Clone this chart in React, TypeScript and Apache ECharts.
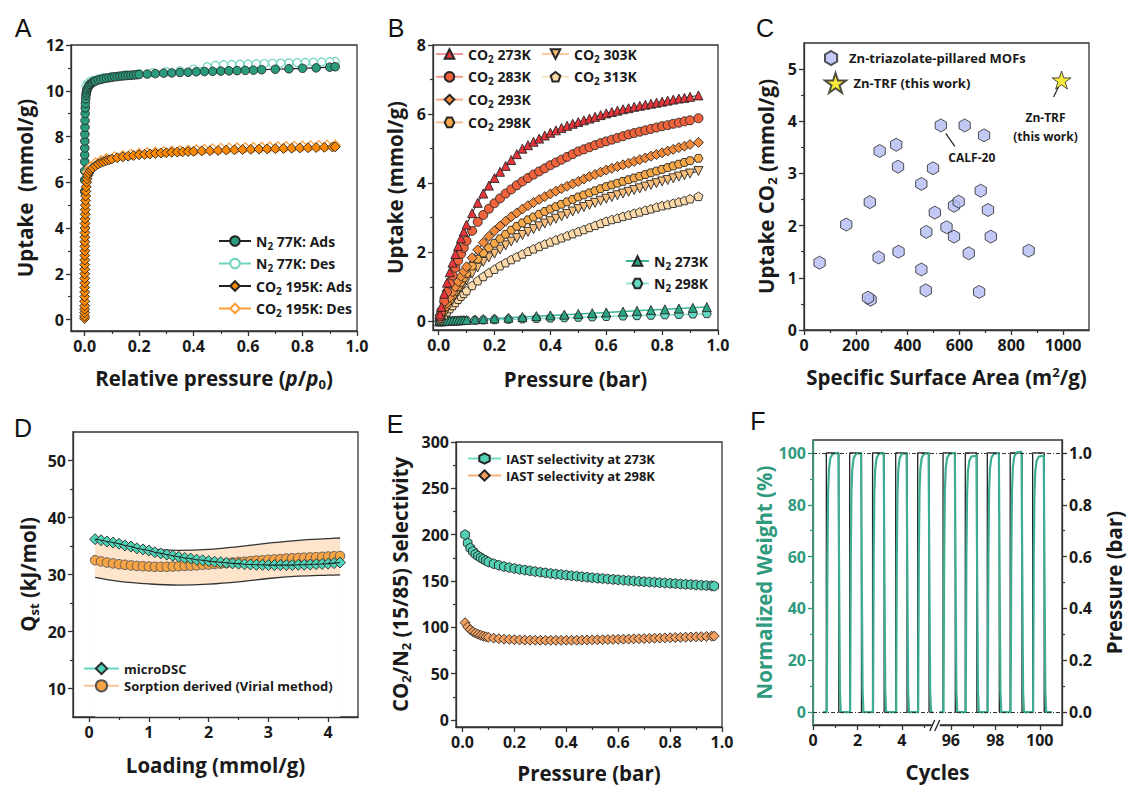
import React, { useEffect, useRef } from "react";
import * as echarts from "echarts";

const FONT = "'Open Sans', 'Noto Sans', 'DejaVu Sans', sans-serif";
const INK = "#1a1a1a";
const AX = "#333333";
const TEAL_F = "#2f9a7e";

// ---------------- Panel A : N2 77K / CO2 195K isotherms ----------------
const n2AdsA = [[0.0001,5.6],[0.0002,6.1],[0.0003,6.5],[0.0004,6.9],[0.0005,7.2],[0.0006,7.5],[0.0008,7.8],[0.001,8.1],[0.0012,8.4],[0.0015,8.7],[0.002,9.0],[0.0025,9.25],[0.003,9.45],[0.004,9.65],[0.005,9.8],[0.006,9.9],[0.008,10.0],[0.01,10.08],[0.013,10.15],[0.016,10.22],[0.02,10.28],[0.025,10.33],[0.03,10.37],[0.035,10.4],[0.04,10.43],[0.05,10.47],[0.06,10.5],[0.07,10.53],[0.08,10.55],[0.09,10.57],[0.1,10.59],[0.11,10.61],[0.12,10.62],[0.13,10.64],[0.14,10.65],[0.15,10.66],[0.16,10.67],[0.17,10.68],[0.18,10.69],[0.19,10.7],[0.2,10.71],[0.23,10.73],[0.26,10.75],[0.29,10.77],[0.32,10.78],[0.35,10.8],[0.38,10.81],[0.41,10.83],[0.44,10.84],[0.47,10.85],[0.5,10.86],[0.53,10.87],[0.56,10.88],[0.59,10.89],[0.62,10.9],[0.65,10.92],[0.7,10.94],[0.75,10.96],[0.8,10.98],[0.85,11.0],[0.9,11.03],[0.92,11.05]];
const n2DesA = [[0.92,11.28],[0.9,11.27],[0.87,11.26],[0.84,11.25],[0.81,11.24],[0.78,11.23],[0.75,11.22],[0.72,11.21],[0.69,11.2],[0.66,11.19],[0.63,11.18],[0.6,11.17],[0.57,11.16],[0.54,11.15],[0.51,11.14],[0.48,11.12],[0.45,11.05],[0.4,10.95],[0.35,10.88],[0.3,10.83],[0.25,10.79],[0.2,10.75],[0.15,10.7],[0.1,10.63],[0.07,10.58],[0.05,10.52],[0.03,10.45],[0.02,10.4],[0.01,10.3],[0.005,10.2]];
const co2AdsA = [[0.00002,0.05],[0.00004,0.15],[0.00006,0.3],[0.00008,0.45],[0.0001,0.6],[0.00013,0.8],[0.00016,1.0],[0.0002,1.2],[0.00024,1.4],[0.00028,1.6],[0.00033,1.8],[0.00038,2.0],[0.00044,2.2],[0.0005,2.4],[0.00057,2.6],[0.00065,2.8],[0.00074,3.0],[0.00084,3.2],[0.00095,3.4],[0.0011,3.6],[0.0012,3.8],[0.0014,4.0],[0.0016,4.2],[0.0018,4.4],[0.0021,4.6],[0.0024,4.8],[0.0028,5.0],[0.0033,5.2],[0.0039,5.4],[0.0047,5.6],[0.0058,5.8],[0.0072,6.0],[0.009,6.15],[0.012,6.3],[0.015,6.4],[0.02,6.5],[0.025,6.57],[0.03,6.63],[0.04,6.72],[0.05,6.8],[0.06,6.86],[0.07,6.9],[0.08,6.95],[0.09,6.98],[0.1,7.02],[0.12,7.07],[0.14,7.11],[0.16,7.14],[0.18,7.17],[0.2,7.2],[0.22,7.22],[0.24,7.24],[0.26,7.26],[0.28,7.28],[0.3,7.29],[0.32,7.31],[0.34,7.32],[0.36,7.33],[0.38,7.34],[0.4,7.35],[0.43,7.37],[0.46,7.38],[0.49,7.39],[0.52,7.41],[0.55,7.42],[0.58,7.43],[0.61,7.44],[0.64,7.45],[0.67,7.46],[0.7,7.47],[0.73,7.48],[0.76,7.49],[0.79,7.5],[0.82,7.51],[0.85,7.52],[0.88,7.53],[0.91,7.54],[0.92,7.55]];
const co2DesA = [[0.92,7.62],[0.89,7.61],[0.86,7.6],[0.83,7.59],[0.8,7.58],[0.77,7.57],[0.74,7.56],[0.71,7.55],[0.68,7.54],[0.65,7.53],[0.62,7.52],[0.59,7.51],[0.56,7.5],[0.53,7.49],[0.5,7.48],[0.47,7.46],[0.44,7.44],[0.41,7.42],[0.38,7.4],[0.35,7.38],[0.32,7.36],[0.29,7.34],[0.26,7.32],[0.23,7.29],[0.2,7.26],[0.17,7.22],[0.14,7.17],[0.11,7.11],[0.08,7.03],[0.06,6.95],[0.04,6.85],[0.02,6.65],[0.01,6.45]];

// ---------------- Panel B : CO2 / N2 isotherms ----------------
const pressB = [0.005,0.01,0.02,0.03,0.04,0.05,0.06,0.07,0.08,0.09,0.1,0.12,0.14,0.16,0.18,0.2,0.22,0.24,0.26,0.28,0.3,0.32,0.34,0.36,0.38,0.4,0.42,0.44,0.46,0.48,0.5,0.52,0.54,0.56,0.58,0.6,0.62,0.64,0.66,0.68,0.7,0.72,0.74,0.76,0.78,0.8,0.82,0.84,0.86,0.88,0.9,0.93];
const co2_273 = [0.2,0.42,0.8,1.12,1.42,1.7,1.95,2.18,2.4,2.6,2.8,3.13,3.43,3.7,3.93,4.15,4.33,4.5,4.67,4.84,5.0,5.1,5.2,5.29,5.38,5.46,5.53,5.6,5.66,5.72,5.77,5.82,5.87,5.92,5.97,6.02,6.06,6.1,6.14,6.17,6.21,6.24,6.27,6.3,6.33,6.36,6.39,6.42,6.45,6.47,6.5,6.54];
const co2_283 = [0.15,0.3,0.58,0.85,1.1,1.33,1.55,1.76,1.95,2.13,2.33,2.62,2.88,3.08,3.26,3.42,3.56,3.7,3.82,3.94,4.05,4.15,4.25,4.34,4.43,4.52,4.6,4.68,4.76,4.84,4.92,4.98,5.04,5.1,5.16,5.21,5.26,5.31,5.36,5.41,5.45,5.49,5.53,5.57,5.61,5.65,5.68,5.72,5.75,5.79,5.82,5.88];
const co2_293 = [0.09,0.18,0.36,0.53,0.69,0.85,1.0,1.15,1.3,1.44,1.58,1.84,2.07,2.28,2.46,2.62,2.76,2.9,3.03,3.14,3.25,3.35,3.44,3.53,3.61,3.69,3.77,3.84,3.91,3.98,4.05,4.12,4.19,4.25,4.32,4.38,4.43,4.48,4.53,4.58,4.63,4.68,4.73,4.78,4.83,4.88,4.93,4.98,5.03,5.07,5.12,5.18];
const co2_298 = [0.08,0.16,0.31,0.46,0.6,0.74,0.87,1.0,1.13,1.26,1.38,1.6,1.8,1.98,2.13,2.26,2.39,2.52,2.64,2.75,2.85,2.94,3.02,3.1,3.18,3.25,3.32,3.39,3.46,3.53,3.6,3.66,3.72,3.78,3.84,3.9,3.95,4.0,4.05,4.1,4.15,4.2,4.25,4.3,4.35,4.4,4.45,4.5,4.55,4.6,4.65,4.72];
const co2_303 = [0.07,0.13,0.26,0.39,0.51,0.63,0.75,0.86,0.97,1.08,1.19,1.38,1.56,1.72,1.85,1.96,2.08,2.2,2.31,2.41,2.5,2.59,2.67,2.75,2.83,2.9,2.97,3.04,3.11,3.18,3.25,3.31,3.37,3.43,3.49,3.55,3.6,3.65,3.7,3.75,3.8,3.85,3.9,3.95,4.0,4.05,4.09,4.14,4.19,4.23,4.28,4.35];
const co2_313 = [0.05,0.1,0.19,0.28,0.37,0.46,0.55,0.64,0.73,0.81,0.89,1.04,1.18,1.3,1.41,1.51,1.61,1.7,1.79,1.87,1.95,2.03,2.1,2.17,2.24,2.3,2.36,2.42,2.48,2.54,2.6,2.66,2.72,2.78,2.84,2.9,2.95,2.99,3.04,3.08,3.13,3.17,3.22,3.26,3.31,3.35,3.38,3.42,3.46,3.5,3.55,3.62];
const pressN2 = [0.002,0.005,0.01,0.015,0.02,0.03,0.04,0.05,0.06,0.07,0.08,0.09,0.1,0.13,0.16,0.2,0.25,0.3,0.35,0.4,0.45,0.5,0.55,0.6,0.66,0.71,0.76,0.81,0.86,0.91,0.96];
const n2_273 = [0.001,0.002,0.004,0.006,0.009,0.013,0.017,0.022,0.026,0.03,0.035,0.039,0.043,0.056,0.069,0.086,0.108,0.129,0.151,0.172,0.194,0.215,0.237,0.258,0.284,0.305,0.327,0.348,0.37,0.391,0.413];
const n2_298 = [0.0005,0.001,0.002,0.0035,0.005,0.007,0.009,0.012,0.014,0.016,0.018,0.021,0.023,0.03,0.037,0.046,0.057,0.069,0.08,0.092,0.103,0.115,0.126,0.138,0.152,0.163,0.175,0.186,0.198,0.209,0.221];

// ---------------- Panel C : surface area vs uptake ----------------
const areaC = [60,163,254,257,247,288,292,356,363,365,453,453,472,470,498,505,528,550,579,597,579,636,620,695,682,710,721,676,867];
const uptakeC = [1.29,2.02,2.45,0.58,0.62,1.39,3.43,3.55,3.13,1.5,2.8,1.16,1.88,0.76,3.1,2.25,3.92,1.97,2.38,2.46,1.79,1.47,3.92,3.73,2.67,2.3,1.79,0.73,1.52];
const trfC = [994, 4.79];
const calfC = [528, 3.92];

// ---------------- Panel D : isosteric heat ----------------
const loadD = [0.1,0.2,0.3,0.4,0.5,0.6,0.7,0.8,0.9,1.0,1.1,1.2,1.3,1.4,1.5,1.6,1.7,1.8,1.9,2.0,2.1,2.2,2.3,2.4,2.5,2.6,2.7,2.8,2.9,3.0,3.1,3.2,3.3,3.4,3.5,3.6,3.7,3.8,3.9,4.0,4.1,4.2];
const dscD = [36.2,36.0,35.8,35.6,35.4,35.1,34.9,34.6,34.4,34.2,33.9,33.7,33.5,33.3,33.1,32.9,32.8,32.6,32.5,32.35,32.25,32.15,32.05,31.95,31.9,31.8,31.75,31.7,31.7,31.65,31.65,31.65,31.65,31.65,31.7,31.7,31.75,31.8,31.85,31.9,32.0,32.1];
const virialD = [32.5,32.3,32.1,31.95,31.8,31.7,31.6,31.5,31.45,31.4,31.35,31.35,31.35,31.4,31.45,31.5,31.55,31.6,31.7,31.75,31.85,31.9,32.0,32.1,32.2,32.25,32.35,32.45,32.5,32.6,32.65,32.7,32.8,32.85,32.9,32.95,33.0,33.05,33.1,33.15,33.2,33.25];
const bandX = [0.1,0.5,1.0,1.5,2.0,2.5,3.0,3.5,4.0,4.2];
const bandUpper = [36.4,35.4,34.5,34.25,34.4,34.9,35.5,36.0,36.3,36.4];
const bandLower = [29.5,28.8,28.35,28.15,28.3,28.7,29.3,29.7,29.9,29.95];

// ---------------- Panel E : IAST selectivity ----------------
const pressE = [0.01,0.02,0.03,0.04,0.05,0.06,0.07,0.08,0.09,0.1,0.12,0.14,0.16,0.18,0.2,0.22,0.24,0.26,0.28,0.3,0.32,0.34,0.36,0.38,0.4,0.42,0.44,0.46,0.48,0.5,0.52,0.54,0.56,0.58,0.6,0.62,0.64,0.66,0.68,0.7,0.72,0.74,0.76,0.78,0.8,0.82,0.84,0.86,0.88,0.9,0.92,0.94,0.96,0.97];
const sel273 = [200,191,185.5,182,179,177,175.2,173.6,172,170.5,168.6,167,165.6,164.5,163.5,162.6,161.8,161,160.2,159.5,158.8,158.1,157.5,156.9,156.3,155.7,155.2,154.6,154.1,153.6,153.1,152.6,152.2,151.7,151.3,150.9,150.5,150.1,149.7,149.3,148.9,148.6,148.2,147.9,147.5,147.2,146.8,146.5,146.2,145.8,145.5,145.2,144.8,144.6];
const sel298 = [105,100.5,97.5,95.3,93.8,92.5,91.5,90.6,89.9,89.3,88.4,87.8,87.3,87.0,86.7,86.5,86.3,86.2,86.1,86.0,86.0,86.0,86.0,86.0,86.1,86.1,86.2,86.3,86.4,86.5,86.6,86.7,86.8,87.0,87.1,87.3,87.4,87.6,87.7,87.9,88.1,88.3,88.4,88.6,88.8,89.0,89.2,89.4,89.6,89.8,90.0,90.2,90.5,90.6];

// ---------------- Panel F : cycling ----------------
const riseL = [0.6,1.65,2.68,3.72,4.71];
const fallL = [1.16,2.18,3.2,4.23,5.22];
const riseR = [95.65,96.65,97.64,98.67,99.68];
const fallR = [96.2,97.17,98.18,99.2,100.2];
const spanL = [0.45, 5.4];
const spanR = [95.5, 100.55];
const weightLeftF = [[0.45,0],[0.62,0],[0.65,60],[0.68,85],[0.72,94],[0.78,98],[0.88,99.6],[1.14,100],[1.18,45],[1.21,8],[1.25,0],[1.67,0],[1.7,60],[1.73,85],[1.77,94],[1.83,98],[1.93,99.6],[2.16,100],[2.2,45],[2.23,8],[2.27,0],[2.7,0],[2.73,60],[2.76,85],[2.8,94],[2.86,98],[2.96,99.6],[3.18,100],[3.22,45],[3.25,8],[3.29,0],[3.74,0],[3.77,60],[3.8,85],[3.84,94],[3.9,98],[4.0,99.6],[4.21,100],[4.25,45],[4.28,8],[4.32,0],[4.73,0],[4.76,60],[4.79,85],[4.83,94],[4.89,98],[4.99,99.6],[5.2,100],[5.24,45],[5.27,8],[5.31,0],[5.4,0]];
const weightRightF = [[95.5,0],[95.67,0],[95.7,60],[95.73,85],[95.77,94],[95.83,98],[95.93,99.6],[96.18,100],[96.22,45],[96.25,8],[96.29,0],[96.67,0],[96.7,60],[96.73,84],[96.77,93],[96.83,97],[96.93,98.6],[97.15,99],[97.19,45],[97.22,8],[97.26,0],[97.66,0],[97.69,60],[97.72,85],[97.76,94],[97.82,98],[97.92,99.6],[98.16,100],[98.2,45],[98.23,8],[98.27,0],[98.69,0],[98.72,60],[98.75,85],[98.79,94.5],[98.85,98.5],[98.95,100.1],[99.18,100.5],[99.22,45],[99.25,8],[99.29,0],[99.7,0],[99.73,60],[99.76,84],[99.8,93],[99.86,97],[99.96,98.6],[100.18,99],[100.22,45],[100.25,8],[100.29,0],[100.55,0]];
const cycleOffset = 89.8; // cycles after the axis break are shifted left by this much

// ---------------- Ticks ----------------
const tk01Major = [0, 0.2, 0.4, 0.6, 0.8, 1.0];
const tk01Minor = [0.1, 0.3, 0.5, 0.7, 0.9];
const tkAyMajor = [0, 2, 4, 6, 8, 10, 12];
const tkAyMinor = [1, 3, 5, 7, 9, 11];
const tkByMajor = [0, 2, 4, 6, 8];
const tkByMinor = [1, 3, 5, 7];
const tkCxMajor = [0, 200, 400, 600, 800, 1000];
const tkCxMinor = [100, 300, 500, 700, 900];
const tkCyMajor = [0, 1, 2, 3, 4, 5];
const tkCyMinor = [0.5, 1.5, 2.5, 3.5, 4.5];
const tkDxMajor = [0, 1, 2, 3, 4];
const tkDxMinor = [0.5, 1.5, 2.5, 3.5];
const tkDyMajor = [10, 20, 30, 40, 50];
const tkDyMinor = [15, 25, 35, 45];
const tkEyMajor = [0, 50, 100, 150, 200, 250, 300];
const tkEyMinor = [25, 75, 125, 175, 225, 275];
const tkFxMajor = [0, 2, 4, 96, 98, 100];
const tkFxMinor = [1, 3, 5, 97, 99, 101];
const tkFyMajor = [0, 20, 40, 60, 80, 100];
const tkFyMinor = [10, 30, 50, 70, 90];

// ---------------- helpers ----------------
const zip = (xs: number[], ys: number[]) => xs.map((x, i) => [x, ys[i]]);
const mapF = (c: number) => (c > 50 ? c - cycleOffset : c);
const f1 = (v: number) => v.toFixed(1);
const f0 = (v: number) => String(Math.round(v));

const HEX = "path://M50,0 L93.3,25 L93.3,75 L50,100 L6.7,75 L6.7,25 Z";
const HEXF = "path://M25,6.7 L75,6.7 L100,50 L75,93.3 L25,93.3 L0,50 Z";
const PENT = "path://M50,0 L97.6,34.5 L79.4,90.5 L20.6,90.5 L2.4,34.5 Z";
const STAR = "path://M50,0 L61.2,34.5 L97.6,34.5 L68.2,55.9 L79.4,90.5 L50,69.1 L20.6,90.5 L31.8,55.9 L2.4,34.5 L38.8,34.5 Z";

const titleRich = (color: string) => ({
  b: { fontFamily: FONT, fontSize: 20.5, fontWeight: "bold", color, lineHeight: 24 },
  i: { fontFamily: FONT, fontSize: 20.5, fontWeight: "bold", fontStyle: "italic", color, lineHeight: 24 },
  s: { fontFamily: FONT, fontSize: 13, fontWeight: "bold", color, lineHeight: 12, verticalAlign: "bottom" },
  u: { fontFamily: FONT, fontSize: 13, fontWeight: "bold", color, lineHeight: 12, verticalAlign: "top" },
});
const legRich = (fs: number) => ({
  b: { fontFamily: FONT, fontSize: fs, fontWeight: "bold", color: INK, lineHeight: fs + 5 },
  s: { fontFamily: FONT, fontSize: Math.round(fs * 0.7), fontWeight: "bold", color: INK, lineHeight: Math.round(fs * 0.7), verticalAlign: "bottom" },
});
const chem = (name: string) => "{b|" + name.replace(/(CO|N)2/g, "$1}{s|2}{b|") + "}";

function buildOption() {
  const xAxes: any[] = [];
  const yAxes: any[] = [];
  const addAxis = (list: any[], c: any) => {
    const color = c.color || AX;
    const idx = list.length;
    list.push({
      type: "value", gridIndex: c.grid, min: c.min, max: c.max, position: c.position,
      axisLine: { show: true, onZero: false, lineStyle: { color, width: 1.3 } },
      axisTick: { show: true, inside: false, customValues: c.major, length: 5, lineStyle: { color, width: 1.3 } },
      axisLabel: { show: true, customValues: c.major, formatter: c.fmt, color: c.labelColor || INK, fontSize: 16, fontWeight: "bold", fontFamily: FONT, margin: c.margin ?? 7 },
      splitLine: { show: false }, minorTick: { show: false },
      name: c.name, nameLocation: "middle", nameGap: c.nameGap,
      nameTextStyle: { fontFamily: FONT, fontSize: 20.5, fontWeight: "bold", color: c.labelColor || INK, rich: titleRich(c.labelColor || INK) },
      z: 3,
    });
    list.push({
      type: "value", gridIndex: c.grid, min: c.min, max: c.max, position: c.position,
      axisLine: { show: false, onZero: false }, axisLabel: { show: false }, splitLine: { show: false },
      axisTick: { show: true, inside: false, customValues: c.minor, length: 3, lineStyle: { color, width: 1.2 } },
    });
    return idx;
  };

  const grids = [
    { left: 71, top: 45, width: 286, height: 286 },
    { left: 433, top: 45, width: 285, height: 285 },
    { left: 804, top: 43, width: 285, height: 287 },
    { left: 73, top: 432, width: 285, height: 285 },
    { left: 456, top: 442, width: 266, height: 285 },
    { left: 813, top: 440, width: 249, height: 285 },
  ].map((g) => ({ ...g, show: true, borderColor: AX, borderWidth: 1.3, backgroundColor: "transparent", containLabel: false }));

  // axes
  const xA = addAxis(xAxes, { grid: 0, min: -0.05, max: 1.0, position: "bottom", major: tk01Major, minor: tk01Minor, fmt: f1, name: "{b|Relative pressure (}{i|p}{b|/}{i|p}{s|0}{b|)}", nameGap: 35 });
  const yA = addAxis(yAxes, { grid: 0, min: -0.5, max: 12, position: "left", major: tkAyMajor, minor: tkAyMinor, fmt: f0, name: "{b|Uptake  (mmol/g)}", nameGap: 34 });
  const xB = addAxis(xAxes, { grid: 1, min: -0.02, max: 1.0, position: "bottom", major: tk01Major, minor: tk01Minor, fmt: f1, name: "{b|Pressure (bar)}", nameGap: 37 });
  const yB = addAxis(yAxes, { grid: 1, min: -0.25, max: 8, position: "left", major: tkByMajor, minor: tkByMinor, fmt: f0, name: "{b|Uptake (mmol/g)}", nameGap: 26 });
  const xC = addAxis(xAxes, { grid: 2, min: 0, max: 1100, position: "bottom", major: tkCxMajor, minor: tkCxMinor, fmt: f0, name: "{b|Specific Surface Area (m}{u|2}{b|/g)}", nameGap: 35 });
  const yC = addAxis(yAxes, { grid: 2, min: 0, max: 5.5, position: "left", major: tkCyMajor, minor: tkCyMinor, fmt: f0, name: "{b|Uptake CO}{s|2}{b| (mmol/g)}", nameGap: 26 });
  const xD = addAxis(xAxes, { grid: 3, min: -0.27, max: 4.5, position: "bottom", major: tkDxMajor, minor: tkDxMinor, fmt: f0, name: "{b|Loading (mmol/g)}", nameGap: 36 });
  const yD = addAxis(yAxes, { grid: 3, min: 5, max: 55, position: "left", major: tkDyMajor, minor: tkDyMinor, fmt: f0, name: "{b|Q}{s|st}{b| (kJ/mol)}", nameGap: 33 });
  const xE = addAxis(xAxes, { grid: 4, min: -0.025, max: 1.0, position: "bottom", major: tk01Major, minor: tk01Minor, fmt: f1, name: "{b|Pressure (bar)}", nameGap: 34 });
  const yE = addAxis(yAxes, { grid: 4, min: -7.5, max: 300, position: "left", major: tkEyMajor, minor: tkEyMinor, fmt: f0, name: "{b|CO}{s|2}{b|/N}{s|2}{b| (15/85) Selectivity}", nameGap: 44 });
  const xF = addAxis(xAxes, { grid: 5, min: 0, max: 11.2, position: "bottom", major: tkFxMajor.map(mapF), minor: tkFxMinor.map(mapF), fmt: (v: number) => f0(v > 5.6 ? v + cycleOffset : v), name: "{b|Cycles}", nameGap: 35 });
  const yF = addAxis(yAxes, { grid: 5, min: -5, max: 105, position: "left", major: tkFyMajor, minor: tkFyMinor, fmt: f0, name: "{b|Normalized Weight (%)}", nameGap: 33, color: TEAL_F, labelColor: TEAL_F });
  const yF2 = addAxis(yAxes, { grid: 5, min: -0.05, max: 1.05, position: "right", major: tk01Major, minor: tk01Minor, fmt: f1, name: "{b|Pressure (bar)}", nameGap: 40 });

  const ser = (name: string, xi: number, yi: number, data: any[], o: any) => ({
    type: "line", name, xAxisIndex: xi, yAxisIndex: yi, data,
    symbol: o.symbol || "circle", symbolSize: o.size || 8, symbolRotate: o.rotate || 0, symbolKeepAspect: true,
    showSymbol: o.symbol !== "none",
    itemStyle: { color: o.fill, borderColor: o.border || "#262626", borderWidth: o.bw ?? 0.9 },
    lineStyle: { color: o.line, width: o.lw ?? 1, type: o.ltype || "solid" },
    areaStyle: o.area, smooth: o.smooth || false,
    z: o.z ?? 2, silent: true, emphasis: { disabled: true }, clip: true,
  });

  const pressPath = (span: number[], rises: number[], falls: number[]) => {
    const pts: number[][] = [[mapF(span[0]), 0]];
    rises.forEach((r, i) => {
      pts.push([mapF(r), 0], [mapF(r), 1], [mapF(falls[i]), 1], [mapF(falls[i]), 0]);
    });
    pts.push([mapF(span[1]), 0]);
    return pts;
  };
  const dotted = { color: "#333", type: [4, 2, 1, 2], width: 1 };

  const series: any[] = [
    // A
    ser("N2 77K: Des", xA, yA, n2DesA, { fill: "#ffffff", border: "#6fd3bf", bw: 1.2, line: "#6fd3bf", lw: 1.5, size: 8 }),
    ser("N2 77K: Ads", xA, yA, n2AdsA, { fill: "#2a9c7d", line: "#222", lw: 1.2, size: 8.5 }),
    ser("CO2 195K: Des", xA, yA, co2DesA, { symbol: "diamond", fill: "#ffffff", border: "#ff9c33", bw: 1.2, line: "#ff9c33", lw: 1.5, size: 10 }),
    ser("CO2 195K: Ads", xA, yA, co2AdsA, { symbol: "diamond", fill: "#ff8a00", line: "#222", lw: 1.2, size: 10 }),
    // B
    ser("N2 298K", xB, yB, zip(pressN2, n2_298), { symbol: HEXF, fill: "#63d7c2", line: "#8fe3d0", lw: 1.5, size: 9 }),
    ser("N2 273K", xB, yB, zip(pressN2, n2_273), { symbol: "triangle", fill: "#2aa583", line: "#3bb496", lw: 1.5, size: 9 }),
    ser("CO2 313K", xB, yB, zip(pressB, co2_313), { symbol: PENT, fill: "#fcd9a8", line: "#222", size: 9 }),
    ser("CO2 303K", xB, yB, zip(pressB, co2_303), { symbol: "triangle", rotate: 180, fill: "#f9be7c", line: "#222", size: 9 }),
    ser("CO2 298K", xB, yB, zip(pressB, co2_298), { symbol: HEXF, fill: "#f7a848", line: "#222", size: 9 }),
    ser("CO2 293K", xB, yB, zip(pressB, co2_293), { symbol: "diamond", fill: "#f48c3c", line: "#222", size: 10 }),
    ser("CO2 283K", xB, yB, zip(pressB, co2_283), { symbol: "circle", fill: "#f0623b", line: "#222", size: 9 }),
    ser("CO2 273K", xB, yB, zip(pressB, co2_273), { symbol: "triangle", fill: "#e8353a", line: "#222", size: 9 }),
    // C
    { type: "scatter", name: "Zn-triazolate-pillared MOFs", xAxisIndex: xC, yAxisIndex: yC, data: zip(areaC, uptakeC), symbol: HEX, symbolSize: 13, symbolKeepAspect: true, itemStyle: { color: "#b4bcf4", borderColor: "#262626", borderWidth: 1 }, silent: true, z: 2 },
    { type: "scatter", name: "Zn-TRF (this work)", xAxisIndex: xC, yAxisIndex: yC, data: [trfC], symbol: STAR, symbolSize: 19, symbolKeepAspect: true, itemStyle: { color: "#f5e50a", borderColor: "#262626", borderWidth: 1 }, silent: true, z: 2 },
    // D : uncertainty band (peach fill under the upper curve, white fill under the lower curve)
    ser("bandHigh", xD, yD, zip(bandX, bandUpper), { symbol: "none", line: "#333", lw: 1.3, smooth: 0.4, area: { color: "#fde4cb", opacity: 1, origin: "start" }, z: 1 }),
    ser("bandLow", xD, yD, zip(bandX, bandLower), { symbol: "none", line: "#333", lw: 1.3, smooth: 0.4, area: { color: "#ffffff", opacity: 1, origin: "start" }, z: 1 }),
    ser("Sorption derived (Virial method)", xD, yD, zip(loadD, virialD), { symbol: "circle", fill: "#f7a444", border: "#555", line: "#f8c596", lw: 2, size: 9.5 }),
    ser("microDSC", xD, yD, zip(loadD, dscD), { symbol: "diamond", fill: "#4fd3b6", border: "#2a2a2a", line: "#5fd9bf", lw: 2, size: 11 }),
    ser("dscLine", xD, yD, zip(loadD, dscD), { symbol: "none", line: "#222", lw: 1.1, z: 3 }),
    // E
    ser("IAST selectivity at 298K", xE, yE, zip(pressE, sel298), { symbol: "diamond", fill: "#f3a060", line: "#f7b27c", lw: 2, size: 10 }),
    ser("IAST selectivity at 273K", xE, yE, zip(pressE, sel273), { symbol: HEX, fill: "#52d0b4", line: "#6ddcc5", lw: 2, size: 10 }),
    // F
    ser("pressL", xF, yF2, pressPath(spanL, riseL, fallL), { symbol: "none", line: "#222", lw: 1.3 }),
    ser("pressR", xF, yF2, pressPath(spanR, riseR, fallR), { symbol: "none", line: "#222", lw: 1.3 }),
    { ...ser("weightL", xF, yF, weightLeftF.map((p) => [mapF(p[0]), p[1]]), { symbol: "none", line: "#3cae92", lw: 2.2, z: 3 }),
      markLine: { symbol: "none", silent: true, label: { show: false }, lineStyle: dotted, data: [{ yAxis: 0 }, { yAxis: 100 }] } },
    ser("weightR", xF, yF, weightRightF.map((p) => [mapF(p[0]), p[1]]), { symbol: "none", line: "#3cae92", lw: 2.2, z: 3 }),
  ];

  const legBase = (fs: number) => ({
    orient: "vertical", padding: 0, selectedMode: false, formatter: chem, symbolKeepAspect: true,
    textStyle: { fontFamily: FONT, fontSize: fs, fontWeight: "bold", color: INK, rich: legRich(fs) },
  });
  const legend = [
    { ...legBase(14), left: 218, top: 234, itemWidth: 32, itemHeight: 12, itemGap: 6, data: ["N2 77K: Ads", "N2 77K: Des", "CO2 195K: Ads", "CO2 195K: Des"] },
    { ...legBase(14), left: 435, top: 47, itemWidth: 27, itemHeight: 12, itemGap: 6.3,
      data: [
        { name: "CO2 273K", lineStyle: { color: "#f29a9a", width: 2 } },
        { name: "CO2 283K", lineStyle: { color: "#f49a86", width: 2 } },
        { name: "CO2 293K", lineStyle: { color: "#f7ad84", width: 2 } },
        { name: "CO2 298K", lineStyle: { color: "#f8bd92", width: 2 } },
      ] },
    { ...legBase(14), left: 541, top: 47, itemWidth: 27, itemHeight: 12, itemGap: 6.3,
      data: [
        { name: "CO2 303K", lineStyle: { color: "#f9cca4", width: 2 } },
        { name: "CO2 313K", lineStyle: { color: "#fbe0c2", width: 2 } },
      ] },
    { ...legBase(14), left: 625, top: 254, itemWidth: 23, itemHeight: 12, itemGap: 6, data: ["N2 273K", "N2 298K"] },
    { ...legBase(13), left: 824, top: 50, itemWidth: 26, itemHeight: 14, data: ["Zn-triazolate-pillared MOFs"] },
    { ...legBase(13), left: 824, top: 72, itemWidth: 26, itemHeight: 20, data: ["Zn-TRF (this work)"] },
    { ...legBase(13), left: 83, top: 662, itemWidth: 35, itemHeight: 14, itemGap: 4, data: ["microDSC", "Sorption derived (Virial method)"] },
    { ...legBase(13), left: 467, top: 452, itemWidth: 33, itemHeight: 13, itemGap: 4, data: ["IAST selectivity at 273K", "IAST selectivity at 298K"] },
  ];

  return {
    option: { animation: false, backgroundColor: "#ffffff", grid: grids, xAxis: xAxes, yAxis: yAxes, series, legend },
    idx: { xC, yC, xF, yF },
  };
}

export default function App() {
  const ref = useRef<HTMLDivElement>(null);
  useEffect(() => {
    if (!ref.current) return;
    const chart = echarts.init(ref.current, null, { renderer: "svg" });
    const { option, idx } = buildOption();
    chart.setOption(option as any);

    const letter = (t: string, x: number, y: number) => ({
      type: "text", x, y, z: 100,
      style: { text: t, fontSize: 25, fontFamily: "'Liberation Sans', Arial, sans-serif", fill: "#111", textAlign: "center", textVerticalAlign: "middle", align: "center", verticalAlign: "middle" },
    });
    const small = (t: string, x: number, y: number) => ({
      type: "text", x, y, z: 100,
      style: { text: t, fontSize: 12, fontWeight: "bold", fontFamily: FONT, fill: INK, textAlign: "center", textVerticalAlign: "middle", align: "center", verticalAlign: "middle" },
    });
    const seg = (x1: number, y1: number, x2: number, y2: number, w = 1.2) => ({
      type: "line", z: 100, shape: { x1, y1, x2, y2 }, style: { stroke: "#222", lineWidth: w },
    });
    const cs = { xAxisIndex: idx.xC, yAxisIndex: idx.yC };
    const calf = chart.convertToPixel(cs as any, calfC) as number[];
    const trf = chart.convertToPixel(cs as any, trfC) as number[];
    const fs = { xAxisIndex: idx.xF, yAxisIndex: idx.yF };
    const brk = chart.convertToPixel(fs as any, [5.52, -5]) as number[];

    const graphic: any[] = [
      letter("A", 23, 28), letter("B", 396, 28), letter("C", 765, 28),
      letter("D", 23, 428), letter("E", 395, 424), letter("F", 758, 421),
      seg(calf[0] + 5, calf[1] + 8, calf[0] + 14, calf[1] + 21),
      small("CALF-20", calf[0] + 31, calf[1] + 32),
      seg(trf[0] - 3, trf[1] + 7, trf[0] - 8, trf[1] + 17),
      small("Zn-TRF", trf[0] - 16, trf[1] + 37),
      small("(this work)", trf[0] - 16, trf[1] + 56),
      { type: "rect", z: 100, shape: { x: brk[0] - 4, y: brk[1] - 3, width: 8, height: 6 }, style: { fill: "#fff" } },
      seg(brk[0] - 6, brk[1] + 6, brk[0] - 1, brk[1] - 5, 1.3),
      seg(brk[0] - 1, brk[1] + 6, brk[0] + 4, brk[1] - 5, 1.3),
    ];
    chart.setOption({ graphic });
    return () => chart.dispose();
  }, []);
  return <div ref={ref} style={{ position: "absolute", left: 0, top: 0, width: 1127, height: 787, background: "#fff" }} />;
}
